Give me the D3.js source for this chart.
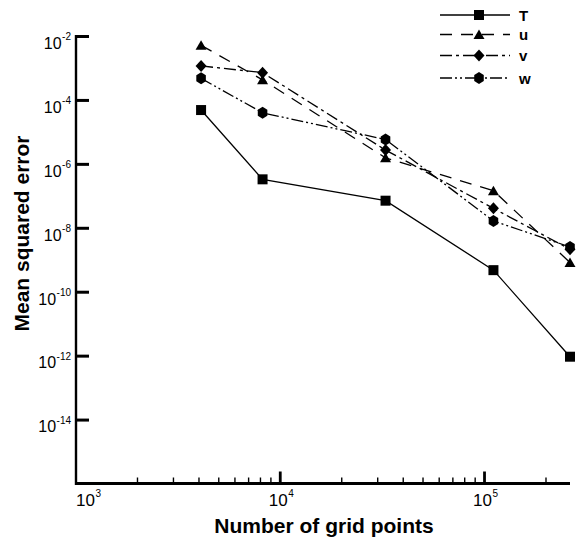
<!DOCTYPE html>
<html>
<head>
<meta charset="utf-8">
<script src="https://cdn.jsdelivr.net/npm/d3@7/dist/d3.min.js"></script>
<style>
  html, body { margin: 0; padding: 0; background: #fff; }
  svg { display: block; font-family: "Liberation Sans", Arial, Helvetica, sans-serif; }
</style>
</head>
<body>
<svg id="chart" width="582" height="546"></svg>
<script>
// Grid sizes and mean squared error of each field
const gridPoints = [4096, 8192, 32768, 110592, 262144];
const errT = [5.0e-5, 3.4e-7, 7.3e-8, 4.9e-10, 9.6e-13];
const errU = [5.3e-3, 4.4e-4, 1.6e-6, 1.5e-7, 8.5e-10];
const errV = [1.2e-3, 7.4e-4, 2.8e-6, 4.2e-8, 2.2e-9];
const errW = [4.9e-4, 4.1e-5, 6.0e-6, 1.7e-8, 2.6e-9];

const seriesNames = ["T", "u", "v", "w"];
const xTickExponents = [3, 4, 5];
const yTickExponents = [-2, -4, -6, -8, -10, -12, -14];

const xDomain = [1000, 262144];
const yDomain = [1e-16, 1e-2];

const svg = d3.select("#chart");

const x = d3.scaleLog().domain(xDomain).range([76, 570]);
const y = d3.scaleLog().domain(yDomain).range([484, 36.5]);

// line styles and marker shapes per field
const styles = {
  T: { dash: null, marker: "square" },
  u: { dash: "12,9", marker: "triangle" },
  v: { dash: "12,4,3,4", marker: "diamond" },
  w: { dash: "12,3,2,3,2,3", marker: "hexagon" }
};

function markerPath(kind) {
  switch (kind) {
    case "square": return "M-5,-5H5V5H-5Z";
    case "triangle": return "M0,-5L5.5,4.5H-5.5Z";
    case "diamond": return "M0,-6L5.5,0L0,6L-5.5,0Z";
    case "hexagon": {
      const r = 6;
      const pts = d3.range(6).map(i => {
        const a = Math.PI / 2 + i * Math.PI / 3;
        return [r * Math.cos(a) * 0.92, r * Math.sin(a)];
      });
      return "M" + pts.map(p => p.join(",")).join("L") + "Z";
    }
  }
}

// axes lines
const ax = svg.append("g").attr("stroke", "#000").attr("fill", "none");
ax.append("line")
  .attr("x1", x.range()[0]).attr("x2", x.range()[0])
  .attr("y1", y.range()[1] - 1.5).attr("y2", y.range()[0] + 1)
  .attr("stroke-width", 2.4);
ax.append("line")
  .attr("x1", x.range()[0] - 1).attr("x2", x.range()[1])
  .attr("y1", y.range()[0] - 0.5).attr("y2", y.range()[0] - 0.5)
  .attr("stroke-width", 3.2);

// y major ticks
yTickExponents.forEach(e => {
  const yy = y(Math.pow(10, e));
  ax.append("line")
    .attr("x1", x.range()[0]).attr("x2", x.range()[0] + 13)
    .attr("y1", yy).attr("y2", yy)
    .attr("stroke-width", 3);
});

// x ticks: decades long and thick, intermediates short
const xAxisY = y.range()[0] - 0.5;
x.ticks().forEach(t => {
  const lg = Math.log10(t);
  const major = Math.abs(lg - Math.round(lg)) < 1e-9;
  if (t === xDomain[0]) return;
  ax.append("line")
    .attr("x1", x(t)).attr("x2", x(t))
    .attr("y1", xAxisY).attr("y2", xAxisY - (major ? 12 : 6))
    .attr("stroke-width", major ? 2.8 : 1.4);
});

// y tick labels
const yLab = svg.append("g").attr("fill", "#000");
yTickExponents.forEach(e => {
  const yy = y(Math.pow(10, e));
  const t = yLab.append("text")
    .attr("x", 71).attr("y", yy + 12.3)
    .attr("text-anchor", "end")
    .attr("font-size", 16);
  t.append("tspan").text("10");
  t.append("tspan").attr("font-size", 10).attr("dy", -8.4).attr("dx", 0.5).text(String(e));
});

// x tick labels; the first one stays inside the frame
const xLab = svg.append("g").attr("fill", "#000");
xTickExponents.forEach((e, i) => {
  const xx = x(Math.pow(10, e));
  const t = xLab.append("text")
    .attr("x", i === 0 ? xx : xx + 1).attr("y", 506)
    .attr("text-anchor", i === 0 ? "start" : "middle")
    .attr("font-size", 17);
  t.append("tspan").text("10");
  t.append("tspan").attr("font-size", 10).attr("dy", -9.5).attr("dx", 0.5).text(String(e));
});

// axis titles
svg.append("text")
  .attr("x", 324).attr("y", 533)
  .attr("text-anchor", "middle")
  .attr("font-size", 21).attr("font-weight", "bold")
  .text("Number of grid points");
svg.append("text")
  .attr("transform", "translate(28.5,233.5) rotate(-90)")
  .attr("text-anchor", "middle")
  .attr("font-size", 21).attr("font-weight", "bold")
  .text("Mean squared error");

// series
const seriesData = { T: errT, u: errU, v: errV, w: errW };
const line = d3.line().x(d => x(d[0])).y(d => y(d[1]));
const plot = svg.append("g");
seriesNames.forEach(name => {
  const pts = gridPoints.map((g, i) => [g, seriesData[name][i]]);
  const st = styles[name];
  plot.append("path")
    .attr("d", line(pts))
    .attr("fill", "none").attr("stroke", "#000")
    .attr("stroke-width", 1.3)
    .attr("stroke-dasharray", st.dash);
  plot.selectAll(null).data(pts).enter().append("path")
    .attr("d", markerPath(st.marker))
    .attr("transform", d => `translate(${x(d[0])},${y(d[1])})`)
    .attr("fill", "#000");
});

// legend
const legendRows = [15, 34.5, 55.5, 78];
const leg = svg.append("g");
seriesNames.forEach((name, i) => {
  const yy = legendRows[i];
  const st = styles[name];
  leg.append("line")
    .attr("x1", 440).attr("x2", 510).attr("y1", yy).attr("y2", yy)
    .attr("stroke", "#000").attr("stroke-width", 1.3)
    .attr("stroke-dasharray", st.dash);
  leg.append("path")
    .attr("d", markerPath(st.marker))
    .attr("transform", `translate(479,${yy})`)
    .attr("fill", "#000");
  leg.append("text")
    .attr("x", 519).attr("y", yy + 5.5)
    .attr("font-size", 15).attr("font-weight", "bold")
    .text(name);
});
</script>
</body>
</html>
